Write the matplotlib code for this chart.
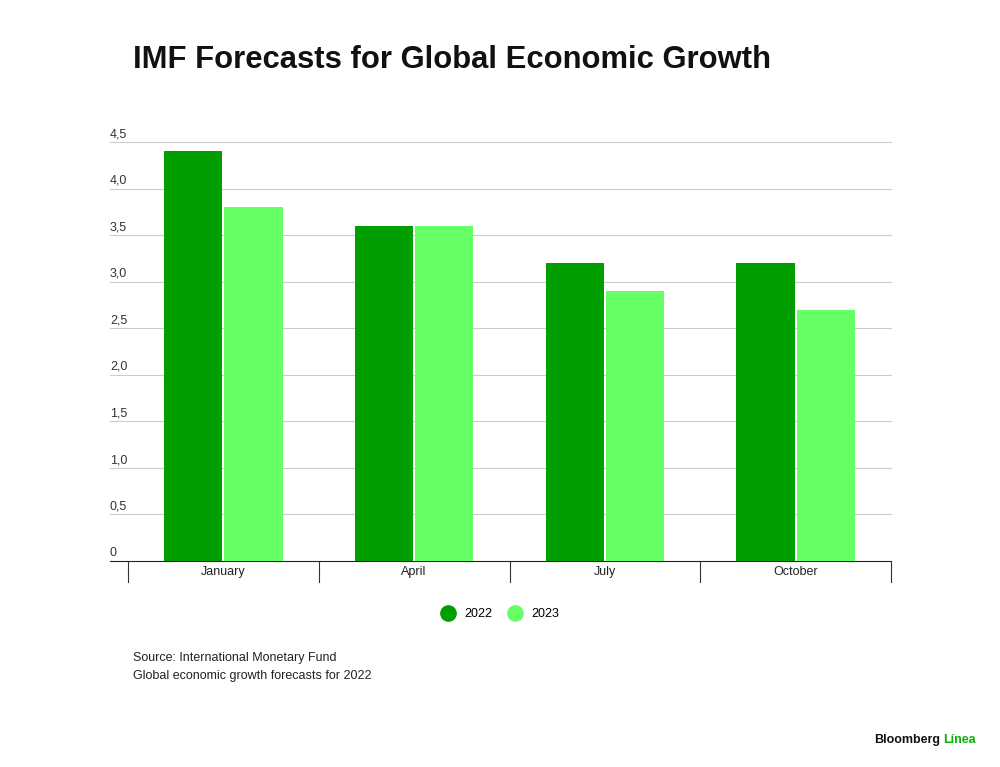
import matplotlib
matplotlib.use("Agg")
import matplotlib.pyplot as plt
from matplotlib.lines import Line2D
import numpy as np

months = ["January", "April", "July", "October"]
v2022 = [4.4, 3.6, 3.2, 3.2]
v2023 = [3.8, 3.6, 2.9, 2.7]
yticks = [0, 0.5, 1.0, 1.5, 2.0, 2.5, 3.0, 3.5, 4.0, 4.5]
C22, C23 = "#009e00", "#66ff66"

plt.rcParams["font.family"] = ["Liberation Sans", "DejaVu Sans"]
fig = plt.figure(figsize=(10, 7.67), dpi=100)
ax = fig.add_axes([128 / 1000, 1 - 561 / 767, 763 / 1000, 419 / 767])
x = np.arange(len(months)) + 0.5
w = 0.305
ax.bar(x - w / 2 - 0.005, v2022, w, color=C22, zorder=3)
ax.bar(x + w / 2 + 0.005, v2023, w, color=C23, zorder=3)
ax.set_xlim(0, 4)
ax.set_ylim(0, 4.5)
ax.axis("off")

gx = (110 - 128) / 763
tr = ax.get_yaxis_transform()
for t in yticks:
    ax.plot([gx, 1], [t, t], transform=tr, clip_on=False,
            color="#cccccc" if t else "#222222", lw=0.8, zorder=1)
    lab = "0" if t == 0 else f"{t:.1f}".replace(".", ",")
    ax.text(gx, t + 0.02, lab, transform=tr, ha="left", va="bottom",
            fontsize=9, color="#333333")
for i in range(len(months) + 1):
    ax.plot([i, i], [0, -0.05], transform=ax.get_xaxis_transform(),
            clip_on=False, color="#333333", lw=0.8)
for xi, m in zip(x, months):
    ax.text(xi, -0.026, m, transform=ax.get_xaxis_transform(),
            ha="center", va="center", fontsize=9, color="#222222")

fig.text(133 / 1000, 1 - 60 / 767, "IMF Forecasts for Global Economic Growth",
         fontsize=22.3, fontweight="bold", va="center", color="#111111")
handles = [Line2D([], [], marker="o", ls="", ms=11, color=c) for c in (C22, C23)]
fig.legend(handles, ["2022", "2023"], loc="center", ncol=2,
           bbox_to_anchor=(497 / 1000, 1 - 614 / 767), frameon=False,
           fontsize=9, handletextpad=0.3, columnspacing=0.8)
fig.text(133 / 1000, 1 - 658 / 767, "Source: International Monetary Fund",
         fontsize=9, va="center", color="#222222")
fig.text(133 / 1000, 1 - 676 / 767, "Global economic growth forecasts for 2022",
         fontsize=9, va="center", color="#222222")
fig.text(940 / 1000, 1 - 740 / 767, "Bloomberg", fontsize=9, fontweight="bold",
         ha="right", va="center", color="#111111")
fig.text(943 / 1000, 1 - 740 / 767, "Línea", fontsize=9, fontweight="bold",
         ha="left", va="center", color="#00b300")
fig.savefig("out.png", dpi=100, facecolor="white")
